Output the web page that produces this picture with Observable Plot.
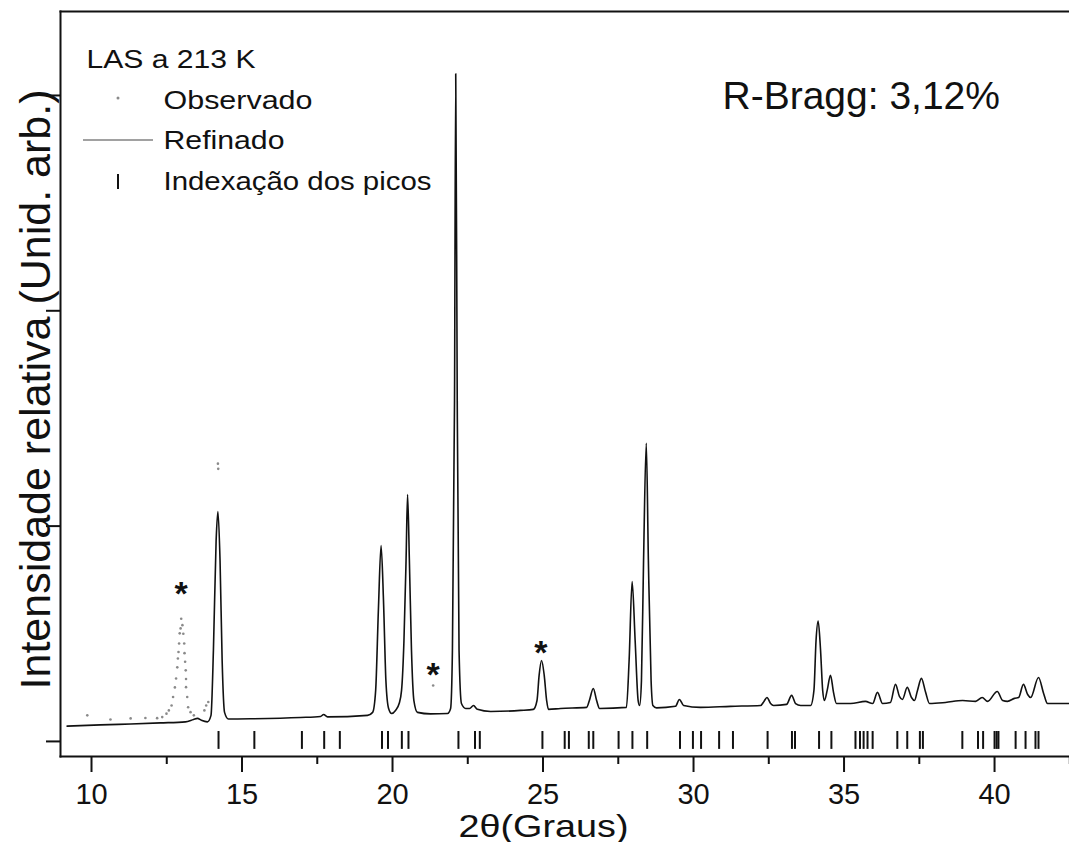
<!DOCTYPE html>
<html>
<head>
<meta charset="utf-8">
<script src="https://cdn.jsdelivr.net/npm/d3@7"></script>
<script src="https://cdn.jsdelivr.net/npm/@observablehq/plot@0.6"></script>
<style>
html, body { margin: 0; padding: 0; background: #fff; overflow: hidden; }
svg { display: block; }
</style>
</head>
<body>
<div id="chart"></div>
<script>
// ---- Data ----
// Refined (calculated) profile: 2θ (degrees) and intensity (arb. units)
const refinedTwoTheta = [
  9.19, 10.30, 11.30, 12.29, 13.12, 13.39, 13.52, 13.65, 13.85, 13.97,
  14.05, 14.14, 14.20, 14.27, 14.34, 14.42, 14.55, 15.28, 16.94, 17.61,
  17.71, 17.84, 19.17, 19.34, 19.44, 19.53, 19.62, 19.70, 19.78, 19.87,
  19.97, 20.10, 20.22, 20.30, 20.38, 20.45, 20.50, 20.56, 20.63, 20.71,
  20.83, 21.26, 21.83, 21.93, 21.99, 22.06, 22.10, 22.15, 22.21, 22.29,
  22.43, 22.56, 22.69, 22.82, 23.26, 24.25, 24.68, 24.80, 24.87, 24.95,
  25.04, 25.12, 25.18, 25.58, 26.45, 26.54, 26.67, 26.78, 26.88, 27.77,
  27.86, 27.96, 28.06, 28.16, 28.21, 28.27, 28.34, 28.43, 28.50, 28.59,
  28.65, 28.77, 29.40, 29.53, 29.67, 30.23, 31.23, 32.23, 32.34, 32.44,
  32.56, 32.66, 33.09, 33.26, 33.39, 33.56, 33.89, 34.00, 34.07, 34.14,
  34.22, 34.29, 34.35, 34.44, 34.55, 34.65, 34.75, 35.22, 35.71, 35.95,
  36.11, 36.28, 36.54, 36.71, 36.84, 36.94, 37.10, 37.24, 37.34, 37.44,
  37.57, 37.71, 37.84, 38.37, 38.94, 39.37, 39.59, 39.77, 40.09, 40.27,
  40.43, 40.66, 40.80, 40.96, 41.10, 41.20, 41.46, 41.63, 41.76, 42.49
];
const refinedIntensity = [
  71, 77, 81, 86, 91, 102, 107, 98, 91, 121,
  423, 933, 1068, 841, 376, 135, 104, 105, 111, 116,
  125, 114, 121, 135, 237, 608, 910, 655, 283, 153,
  130, 144, 176, 237, 469, 841, 1147, 841, 423, 190,
  135, 128, 130, 153, 423, 1584, 3101, 1584, 423, 176,
  153, 153, 167, 149, 139, 144, 149, 190, 307, 376,
  307, 190, 149, 153, 158, 190, 246, 190, 153, 158,
  376, 743, 469, 190, 167, 283, 841, 1385, 841, 283,
  167, 156, 163, 195, 167, 158, 163, 167, 186, 204,
  176, 167, 172, 214, 176, 167, 167, 237, 469, 559,
  423, 237, 190, 237, 307, 228, 176, 176, 186, 176,
  228, 176, 181, 265, 209, 195, 251, 204, 190, 237,
  293, 228, 176, 181, 190, 186, 204, 186, 232, 190,
  186, 200, 204, 265, 218, 204, 297, 223, 176, 176
];
// Observed points that are visible apart from the refined line
const observedTwoTheta = [
  9.86, 10.63, 11.30, 11.79, 12.18, 12.35, 12.49, 12.57, 12.66, 12.71,
  12.77, 12.81, 12.85, 12.87, 12.89, 12.91, 12.93, 12.96, 12.98, 13.02,
  13.05, 13.08, 13.09, 13.11, 13.13, 13.14, 13.14, 13.18, 13.21, 13.29,
  13.40, 13.75, 13.81, 13.88, 14.20, 14.21, 21.35
];
const observedIntensity = [
  121, 102, 107, 109, 108, 113, 129, 144, 167, 206,
  251, 292, 344, 385, 415, 455, 502, 525, 570, 540,
  500, 455, 410, 370, 330, 290, 252, 206, 159, 136,
  121, 144, 167, 183, 1290, 1266, 260
];
// Bragg reflection positions (peak indexing)
const reflections = [
  14.22, 15.41, 16.99, 17.73, 18.25, 19.65, 19.85, 20.31, 20.53, 22.19,
  22.74, 22.90, 24.98, 25.72, 25.86, 26.52, 26.67, 27.51, 27.97, 28.46,
  29.55, 29.98, 30.25, 30.85, 31.31, 32.46, 33.27, 33.37, 34.17, 34.58,
  35.38, 35.53, 35.65, 35.78, 35.95, 36.77, 37.10, 37.52, 37.62, 38.93,
  39.45, 39.62, 40.00, 40.07, 40.13, 40.70, 41.03, 41.36, 41.46
];
// Impurity markers (*)
const asteriskTwoTheta = [12.98, 21.35, 24.93];
const asteriskIntensity = [724, 348, 454];

const xTicks = [10, 15, 20, 25, 30, 35, 40];
const xMinorTicks = [12.5, 17.5, 22.5, 27.5, 32.5, 37.5, 42.5];
const yTicks = [0, 1000, 2000, 3000];

const legendTitle = "LAS a 213 K";
const legendLabels = ["Observado", "Refinado", "Indexação dos picos"];
const rBraggText = "R-Bragg: 3,12%";
const xLabel = "2θ(Graus)";
const yLabel = "Intensidade relativa (Unid. arb.)";

// ---- Build tables ----
const refined = refinedTwoTheta.map((x, i) => ({x, y: refinedIntensity[i]}));
const observed = observedTwoTheta.map((x, i) => ({x, y: observedIntensity[i]}));
const asterisks = asteriskTwoTheta.map((x, i) => ({x, y: asteriskIntensity[i]}));

const ink = "#111";
const font = "'Liberation Sans', Arial, sans-serif";

const chart = Plot.plot({
  width: 1069,
  height: 842,
  marginLeft: 60,
  marginRight: 0,
  marginTop: 11,
  marginBottom: 86,
  x: {domain: [8.97, 42.49]},
  y: {domain: [-70, 3390]},
  style: {fontFamily: font, color: ink, background: "#fff", overflow: "hidden"},
  marks: [
    Plot.frame({anchor: "top", stroke: ink, strokeWidth: 2}),
    Plot.frame({anchor: "left", stroke: ink, strokeWidth: 2}),
    Plot.frame({anchor: "bottom", stroke: ink, strokeWidth: 2}),
    Plot.axisX(xTicks, {tickSize: 16, tickPadding: 11, fontSize: 29, stroke: ink, fill: ink, strokeWidth: 2, strokeOpacity: 1, tickFormat: d => String(d), label: null}),
    Plot.axisX(xMinorTicks, {tickSize: 8, text: null, stroke: ink, strokeWidth: 2, strokeOpacity: 1, label: null}),
    Plot.axisY(yTicks, {tickSize: 14, text: null, stroke: ink, strokeWidth: 2, strokeOpacity: 1, label: null}),
    Plot.ruleX(reflections, {y1: -37, y2: 46, stroke: ink, strokeWidth: 2}),
    Plot.line(refined, {x: "x", y: "y", curve: "monotone-x", stroke: ink, strokeWidth: 1.6}),
    Plot.dot(observed, {x: "x", y: "y", r: 1.3, fill: "#8a8a8a", stroke: null}),
    Plot.text(asterisks, {x: "x", y: "y", text: () => "*", fontSize: 34, fontWeight: "bold", fill: ink, dy: 9}),
    Plot.text([rBraggText], {frameAnchor: "top-left", dx: 662, dy: 97, fontSize: 39, textAnchor: "start", lineAnchor: "bottom", fill: ink}),
    Plot.text([legendTitle], {frameAnchor: "top-left", dx: 26, dy: 56, fontSize: 25, textAnchor: "start", lineAnchor: "bottom", fill: ink}),
    ...legendLabels.map((t, i) => Plot.text([t], {frameAnchor: "top-left", dx: 103, dy: 97 + i * 40.5, fontSize: 25, textAnchor: "start", lineAnchor: "bottom", fill: ink})),
    Plot.text([xLabel], {frameAnchor: "bottom", dx: -21.5, dy: 80, fontSize: 32, textAnchor: "middle", lineAnchor: "bottom", fill: ink}),
    Plot.text([yLabel], {frameAnchor: "left", dx: -11, dy: 5.5, rotate: -90, fontSize: 42, textAnchor: "middle", lineAnchor: "bottom", fill: ink})
  ]
});

document.getElementById("chart").appendChild(chart);

// Legend symbols and text widths (the reference lettering is slightly wide)
const svg = d3.select(chart);
const textWidths = {"LAS a 213 K": 169, "Observado": 149, "Refinado": 121, "Indexação dos picos": 268, "Intensidade relativa (Unid. arb.)": 600, "2θ(Graus)": 170};
svg.selectAll("text").each(function() {
  const w = textWidths[this.textContent];
  if (w) { this.setAttribute("textLength", w); this.setAttribute("lengthAdjust", "spacingAndGlyphs"); }
});
const leg = svg.append("g").attr("aria-label", "legend symbols");
leg.append("circle").attr("cx", 118).attr("cy", 98).attr("r", 1.5).attr("fill", "#8a8a8a");
leg.append("line").attr("x1", 83).attr("x2", 153).attr("y1", 140).attr("y2", 140).attr("stroke", "#444").attr("stroke-width", 1.2);
leg.append("line").attr("x1", 118).attr("x2", 118).attr("y1", 174).attr("y2", 189).attr("stroke", ink).attr("stroke-width", 2);
</script>
</body>
</html>
